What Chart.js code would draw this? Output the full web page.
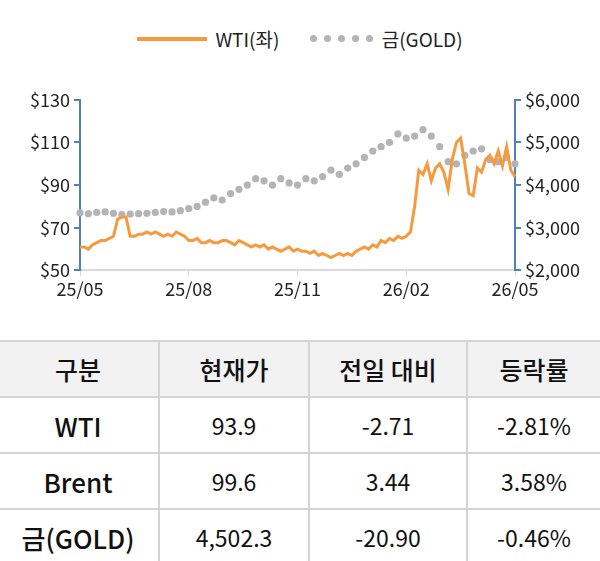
<!DOCTYPE html>
<html><head><meta charset="utf-8">
<script src="https://cdn.jsdelivr.net/npm/chart.js@4"></script>
<style>
html,body{margin:0;padding:0;width:600px;height:561px;overflow:hidden;background:#fff;font-family:"Noto Sans CJK KR","Noto Sans",sans-serif;}
#legend{position:absolute;top:22px;left:0;width:600px;text-align:center;font-size:19px;color:#222;}
#legend span{display:inline-block;vertical-align:middle}
.d{width:7px;height:7px;border-radius:50%;background:#b4b4b4;margin-right:7px}
#wrap{position:absolute;top:85px;left:0;width:600px;height:217px;}
table{position:absolute;top:340px;left:-2px;width:604px;border-collapse:collapse;}
td,th{border:2px solid #d4d4d4;text-align:center;height:54px;padding:0;font-size:23px;color:#111;font-weight:400;}
th{background:#f2f2f2;font-weight:500;font-size:25px;}
td.h{font-weight:500;font-size:26px;}
tr td:first-child,tr th:first-child{border-left:none}
</style></head><body>
<div id="legend"><span style="width:70px;height:4px;background:#f59a3e;margin-right:8px"></span><span>WTI(좌)</span>
<span style="width:26px"></span><span class="d"></span><span class="d"></span><span class="d"></span><span class="d"></span><span class="d"></span><span style="margin-left:2px">금(GOLD)</span></div>
<div id="wrap"><canvas id="c"></canvas></div>
<table>
<tr><th style="width:160px">구분</th><th style="width:148px">현재가</th><th style="width:156px">전일 대비</th><th>등락률</th></tr>
<tr><td class="h">WTI</td><td>93.9</td><td>-2.71</td><td>-2.81%</td></tr>
<tr><td class="h">Brent</td><td>99.6</td><td>3.44</td><td>3.58%</td></tr>
<tr><td class="h">금(GOLD)</td><td>4,502.3</td><td>-20.90</td><td>-0.46%</td></tr>
</table>
<script>
const wti=[61,61,60,62,63,64,64,65,66,74,75,75,66,66,67,67,68,67,68,67,66,67,66,68,67,66,
64,64,65,63,63,64,63,63,64,64,63,62,64,63,62,61,62,61,62,60,61,60,59,60,61,59,
60,59,59,58,59,57,58,57,56,57,58,57,58,57,59,60,61,60,62,61,64,63,65,64,66,65,
66,68,80,97,95,100,92,98,100,96,88,102,110,112,100,86,85,98,96,102,104,100,106,99,108,97,94];
const gold=[3350,3330,3360,3370,3340,3310,3320,3330,3340,3360,3380,3370,3400,
3450,3500,3600,3700,3650,3800,3900,4000,4150,4100,4000,4150,4050,
4000,4150,4100,4200,4350,4250,4400,4500,4650,4800,4900,5000,5200,
5100,5150,5300,5150,4900,4550,4500,4700,4800,4850,4600,4550,4650,4500];
const tickLabels=["25/05","25/08","25/11","26/02","26/05"];
const tickIdx=[0,26,52,78,104];
const leftTicks=[50,70,90,110,130];
const rightTicks=[2000,3000,4000,5000,6000];
const labels=wti.map((v,i)=>{const k=tickIdx.indexOf(i);return k>=0?tickLabels[k]:"";});
const goldData=wti.map((v,i)=>i%2===0?gold[i/2]:null);
const blue="#4f81bd";
const tf={family:"Noto Sans CJK KR",size:18};
new Chart(document.getElementById('c'),{
 type:'line',
 data:{labels,datasets:[
  {data:wti,borderColor:'#f59a3e',borderWidth:3,pointRadius:0,yAxisID:'y',tension:0},
  {data:goldData,showLine:false,pointRadius:3.6,pointBackgroundColor:'#b4b4b4',pointBorderWidth:0,yAxisID:'y1'}
 ]},
 options:{responsive:true,maintainAspectRatio:false,animation:false,
  layout:{padding:{left:0,right:0,top:12,bottom:0}},
  plugins:{legend:{display:false},tooltip:{enabled:false}},
  scales:{
   x:{afterBuildTicks:a=>{a.ticks=a.ticks.filter(t=>tickIdx.includes(t.value));},
      ticks:{autoSkip:false,maxRotation:0,color:'#222',font:tf,padding:2},
      grid:{drawOnChartArea:false,color:'#d9d9d9',tickLength:6},border:{color:'#d9d9d9',width:2}},
   y:{position:'left',min:50,max:130,afterBuildTicks:a=>{a.ticks=leftTicks.map(v=>({value:v}));},
      afterFit:a=>{a.width=80;},
      ticks:{color:'#222',font:tf,callback:v=>'$'+v,padding:4},
      grid:{drawOnChartArea:false,color:blue,tickLength:6,lineWidth:2},border:{color:blue,width:2}},
   y1:{position:'right',min:2000,max:6000,afterBuildTicks:a=>{a.ticks=rightTicks.map(v=>({value:v}));},
      afterFit:a=>{a.width=85;},
      ticks:{color:'#222',font:tf,callback:v=>'$'+v.toLocaleString('en-US'),padding:4},
      grid:{drawOnChartArea:false,color:blue,tickLength:6,lineWidth:2},border:{color:blue,width:2}}
  }}
});
</script></body></html>
